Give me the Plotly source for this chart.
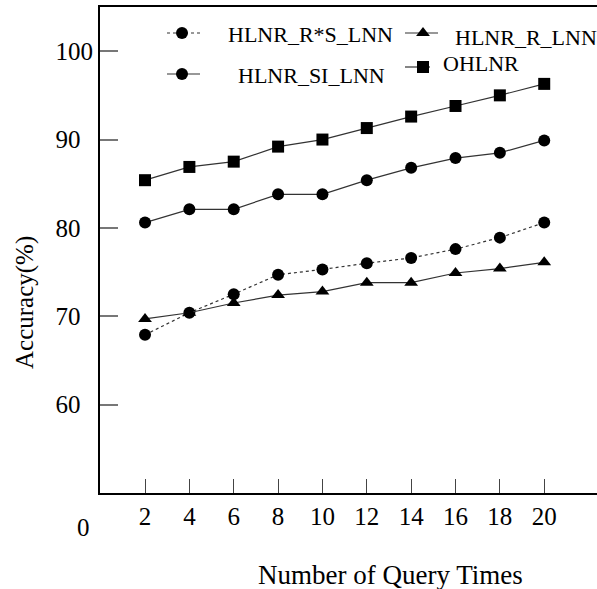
import plotly.graph_objects as go

x_vals = [2, 4, 6, 8, 10, 12, 14, 16, 18, 20]
ohlnr = [85.4, 86.9, 87.5, 89.2, 90.0, 91.3, 92.6, 93.8, 95.0, 96.3]
si_lnn = [80.6, 82.1, 82.1, 83.8, 83.8, 85.4, 86.8, 87.9, 88.5, 89.9]
rs_lnn = [67.9, 70.4, 72.5, 74.7, 75.3, 76.0, 76.6, 77.6, 78.9, 80.6]
r_lnn = [69.7, 70.4, 71.5, 72.4, 72.8, 73.8, 73.8, 74.9, 75.4, 76.1]
y_ticks = [60, 70, 80, 90, 100]

FONT = "Liberation Serif"
LC = "#333333"
MS = 12

# pixel -> paper helpers (plot area: x 100..597, y 7..493)
def px(x):
    return (x - 100) / 497.0

def py(y):
    return (493 - y) / 486.0

fig = go.Figure()

series = [
    ("HLNR_R*S_LNN", rs_lnn, "circle", "dot"),
    ("HLNR_R_LNN", r_lnn, "triangle-up", "solid"),
    ("HLNR_SI_LNN", si_lnn, "circle", "solid"),
    ("OHLNR", ohlnr, "square", "solid"),
]
for name, ys, sym, dash in series:
    fig.add_trace(go.Scatter(
        x=x_vals, y=ys, mode="lines+markers", name=name,
        line=dict(color=LC, width=1.2, dash=dash),
        marker=dict(symbol=sym, size=MS, color="black"),
        showlegend=False,
    ))

legend_items = [
    # (name, symbol, dash, x0, xm, x1, y, text_x, text_y)
    ("HLNR_R*S_LNN", "circle", "dot", 167, 182, 200, 33, 226, 34),
    ("HLNR_R_LNN", "triangle-up", "solid", 405, 423, 438, 33, 453, 37),
    ("HLNR_SI_LNN", "circle", "solid", 167, 182, 200, 74, 236, 75),
    ("OHLNR", "square", "solid", 405, 423, 430, 67, 441, 64),
]
for name, sym, dash, a, m, b, yy, tx, ty in legend_items:
    fig.add_trace(go.Scatter(
        x=[a, b], y=[yy, yy], mode="lines",
        line=dict(color=LC, width=1.2, dash=dash),
        xaxis="x2", yaxis="y2", showlegend=False, hoverinfo="skip",
    ))
    fig.add_trace(go.Scatter(
        x=[m], y=[yy], mode="markers",
        marker=dict(symbol=sym, size=MS, color="black"),
        xaxis="x2", yaxis="y2", showlegend=False, hoverinfo="skip",
    ))
    fig.add_annotation(x=px(tx), y=py(ty), xref="paper", yref="paper", text=name,
                       showarrow=False, xanchor="left", yanchor="middle",
                       font=dict(family=FONT, size=22, color="black"))

fig.add_annotation(x=px(83), y=py(527), xref="paper", yref="paper", text="0",
                   showarrow=False, xanchor="center", yanchor="middle",
                   font=dict(family=FONT, size=25, color="black"))
fig.add_annotation(x=px(390), y=py(575), xref="paper", yref="paper",
                   text="Number of Query Times",
                   showarrow=False, xanchor="center", yanchor="middle",
                   font=dict(family=FONT, size=27, color="black"))
fig.add_annotation(x=px(25), y=py(303), xref="paper", yref="paper", text="Accuracy(%)",
                   showarrow=False, xanchor="center", yanchor="middle", textangle=-90,
                   font=dict(family=FONT, size=25, color="black"))

y_text = [str(v) if v >= 100 else str(v) + "\u2007" for v in y_ticks]

fig.update_layout(
    width=597, height=589,
    margin=dict(l=100, r=0, t=7, b=96),
    paper_bgcolor="white", plot_bgcolor="white",
    font=dict(family=FONT, size=25, color="black"),
    xaxis=dict(range=[-0.03, 22.38], tickvals=x_vals, ticktext=[str(v) for v in x_vals],
               ticks="inside", ticklen=14, tickwidth=1.2, tickcolor="#444444",
               showline=True, linecolor="black", linewidth=2, mirror=True,
               showgrid=False, zeroline=False, fixedrange=True,
               tickfont=dict(family=FONT, size=25)),
    yaxis=dict(range=[50, 105], tickvals=y_ticks, ticktext=y_text,
               ticks="inside", ticklen=18, tickwidth=1.5, tickcolor="#777777",
               showline=True, linecolor="black", linewidth=2,
               showgrid=False, zeroline=False, fixedrange=True,
               tickfont=dict(family=FONT, size=25)),
    xaxis2=dict(range=[100, 597], overlaying="x", visible=False, fixedrange=True),
    yaxis2=dict(range=[493, 7], overlaying="y", visible=False, fixedrange=True),
)

fig.write_html("out.html")
